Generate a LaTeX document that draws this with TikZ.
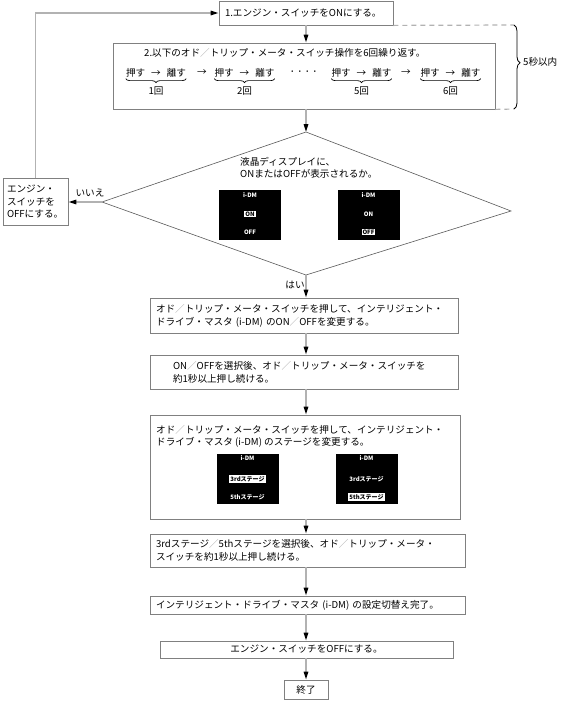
\documentclass[tikz,border=0pt]{standalone}
\usepackage{fontspec}
\setmainfont{Noto Sans CJK JP}
\usepackage{xcolor}
\usepackage{tikz}
\usetikzlibrary{arrows.meta,positioning,calc,decorations.pathreplacing}

\newcommand{\jsl}{\textcolor{black!35}{／}}

\begin{document}
\begin{tikzpicture}[x=1pt,y=-1pt,
	box/.style={draw=black!50, line width=0.8pt, fill=white, inner xsep=6pt, inner ysep=0pt, align=left, font=\fontsize{9.6}{12.8}\selectfont},
	txt/.style={inner sep=0pt, font=\fontsize{9.6}{12.6}\selectfont},
	flow/.style={draw=black!30, line width=1.5pt, -{Triangle[length=8pt,width=4.5pt,color=black]}},
	dia/.style={draw=black!65, line width=0.6pt},
	limitline/.style={draw=black!30, line width=1.2pt, dash pattern=on 5pt off 4pt},
	bigbrace/.style={decorate, decoration={brace, amplitude=6pt, aspect=0.45}, line width=0.8pt},
	ubrace/.style={decorate, decoration={brace, amplitude=4pt}, line width=0.7pt},
	lcd/.style={fill=black, minimum width=62pt, minimum height=50pt, inner sep=0pt},
	lcdtxt/.style={text=white, inner sep=0pt, font=\fontsize{6}{7}\selectfont\bfseries},
	lcdsel/.style={fill=white, text=black, inner sep=1pt, font=\fontsize{6}{7}\selectfont\bfseries}]

	\useasboundingbox (0,0) rectangle (566,702);

	% step 1 and 2
	\node[box, minimum width=174pt, minimum height=24pt, text width=162pt] (box1) at (306,13) {1.エンジン・スイッチをONにする。};
	\node[box, minimum width=382pt, minimum height=66pt] (box2) at (304,76) {};
	\node[txt, anchor=west] (title2) at (144,53) {2.以下のオド\jsl トリップ・メータ・スイッチ操作を6回繰り返す。};

	\node[txt] (g1) at (156,73) {押す\hspace{6pt}→\hspace{6pt}離す};
	\node[txt] (a1) at (202,73) {→};
	\node[txt] (g2) at (244.5,73) {押す\hspace{6pt}→\hspace{6pt}離す};
	\node[txt] (dots) at (303.5,73) {\fontsize{7.5}{9}\selectfont ・・・・};
	\node[txt] (g3) at (361.5,73) {押す\hspace{6pt}→\hspace{6pt}離す};
	\node[txt] (a2) at (406,73) {→};
	\node[txt] (g4) at (450.5,73) {押す\hspace{6pt}→\hspace{6pt}離す};

	\draw[ubrace] ([yshift=-1pt]g1.south east) -- ([yshift=-1pt]g1.south west);
	\draw[ubrace] ([yshift=-1pt]g2.south east) -- ([yshift=-1pt]g2.south west);
	\draw[ubrace] ([yshift=-1pt]g3.south east) -- ([yshift=-1pt]g3.south west);
	\draw[ubrace] ([yshift=-1pt]g4.south east) -- ([yshift=-1pt]g4.south west);
	\node[txt, below=9pt of g1] (n1) {1回};
	\node[txt, below=9pt of g2] (n2) {2回};
	\node[txt, below=9pt of g3] (n5) {5回};
	\node[txt, below=9pt of g4] (n6) {6回};

	% 5 s limit
	\coordinate (brtop) at (514,25);
	\coordinate (brbot) at (514,109);
	\draw[limitline] (box1.south east) -- (brtop);
	\draw[limitline] (box2.south east) -- (brbot);
	\draw[bigbrace] (brtop) -- (brbot);
	\node[txt, anchor=west] (limit) at (523,62) {5秒以内};

	% check on the display
	\coordinate (dtop) at (306,132);
	\coordinate (dleft) at (102,202);
	\coordinate (dright) at (511,211);
	\coordinate (dbot) at (306,275);
	\draw[dia] (dtop) -- (dright) -- (dbot) -- (dleft) -- cycle;
	\node[txt, anchor=north west, align=left] (ask) at (240,157) {液晶ディスプレイに、\\ONまたはOFFが表示されるか。};

	\node[lcd] (lcdA) at (250,215) {};
	\node[lcdtxt] (aname) at (250,195) {i-DM};
	\node[lcdsel] (aon) at (250,214) {ON};
	\node[lcdtxt] (aoff) at (250,232) {OFF};
	\node[lcd] (lcdB) at (368.5,215) {};
	\node[lcdtxt] (bname) at (368.5,195) {i-DM};
	\node[lcdtxt] (bon) at (368.5,214) {ON};
	\node[lcdsel] (boff) at (368.5,232) {OFF};

	\node[box, inner xsep=4pt, text width=57pt, minimum height=47pt] (offbox) at (35.5,201.5) {エンジン・\\スイッチを\\OFFにする。};
	\node[txt] (no) at (90,193) {いいえ};
	\node[txt] (yes) at (295,285) {はい};

	% i-DM setting
	\node[box, minimum width=308pt, minimum height=35pt, text width=296pt] (box3) at (304,315.5) {オド\jsl トリップ・メータ・スイッチを押して、インテリジェント・\\ドライブ・マスタ (i-DM) のON\jsl OFFを変更する。};
	\node[box, minimum width=308pt, minimum height=34pt, text width=296pt] (box4) at (304,372) {\hspace*{17pt}ON\jsl OFFを選択後、オド\jsl トリップ・メータ・スイッチを\\\hspace*{17pt}約1秒以上押し続ける。};

	\node[box, minimum width=310pt, minimum height=104pt] (box5) at (305,467) {};
	\node[txt, anchor=north west, align=left] (title5) at (156,425) {オド\jsl トリップ・メータ・スイッチを押して、インテリジェント・\\ドライブ・マスタ (i-DM) のステージを変更する。};
	\node[lcd] (lcdC) at (247.5,479) {};
	\node[lcdtxt] (cname) at (247.5,458) {i-DM};
	\node[lcdsel] (cthird) at (247.5,479) {3rdステージ};
	\node[lcdtxt] (cfifth) at (247.5,497) {5thステージ};
	\node[lcd] (lcdD) at (366.5,479) {};
	\node[lcdtxt] (dname) at (366.5,458) {i-DM};
	\node[lcdtxt] (dthird) at (366.5,479) {3rdステージ};
	\node[lcdsel] (dfifth) at (366.5,497) {5thステージ};

	\node[box, minimum width=315pt, minimum height=33pt, text width=303pt] (box6) at (307.5,550.5) {3rdステージ\jsl 5thステージを選択後、オド\jsl トリップ・メータ・\\スイッチを約1秒以上押し続ける。};
	\node[box, minimum width=315pt, minimum height=18pt, text width=303pt] (box7) at (307.5,605) {インテリジェント・ドライブ・マスタ (i-DM) の設定切替え完了。};
	\node[box, minimum width=293pt, minimum height=17pt, align=center] (box8) at (306.5,649.5) {エンジン・スイッチをOFFにする。};
	\node[box, minimum width=44pt, minimum height=19pt, align=center] (box9) at (306,689.5) {終了};

	% connectors
	\draw[flow] (box1.south -| dtop) -- (box2.north -| dtop);
	\draw[flow] (box2.south -| dtop) -- (dtop);
	\draw[flow] (dleft) -- (offbox.east |- dleft);
	\draw[flow] (offbox.north) |- (box1.west);
	\draw[flow] (dbot) -- (box3.north -| dbot);
	\draw[flow] (box3.south -| dbot) -- (box4.north -| dbot);
	\draw[flow] (box4.south -| dbot) -- (box5.north -| dbot);
	\draw[flow] (box5.south -| dbot) -- (box6.north -| dbot);
	\draw[flow] (box6.south -| dbot) -- (box7.north -| dbot);
	\draw[flow] (box7.south -| dbot) -- (box8.north -| dbot);
	\draw[flow] (box8.south -| dbot) -- (box9.north -| dbot);
\end{tikzpicture}
\end{document}
